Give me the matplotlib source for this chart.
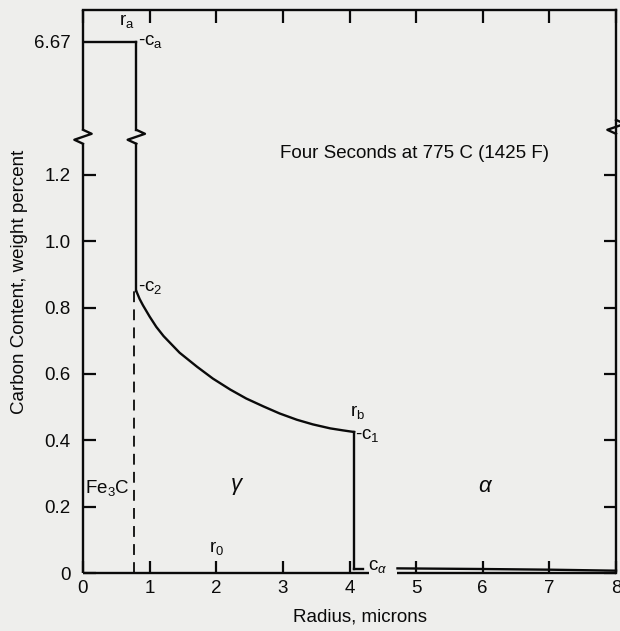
import numpy as np
import matplotlib
matplotlib.use("Agg")
import matplotlib.pyplot as plt

plt.rcParams['font.family'] = ['Liberation Sans', 'DejaVu Sans']
plt.rcParams['mathtext.fontset'] = 'custom'
plt.rcParams['mathtext.rm'] = 'Liberation Sans'
plt.rcParams['mathtext.it'] = 'Liberation Sans:italic'

# ---- data ----
r_a = 0.8            # cementite / austenite interface
c_a = 6.67           # carbon in Fe3C
c_2 = 0.85           # carbon in austenite at r_a
r_b = 4.07           # austenite / ferrite interface
c_1 = 0.425          # carbon in austenite at r_b
c_alpha = 0.012      # carbon in ferrite
radius_curve = [0.80, 0.85, 0.90, 1.00, 1.10, 1.21, 1.45, 1.71, 1.95, 2.21, 2.45, 2.71, 2.95, 3.21, 3.45, 3.71, 3.90, 4.07]
carbon_curve = [0.850, 0.826, 0.807, 0.773, 0.742, 0.714, 0.664, 0.622, 0.586, 0.553, 0.526, 0.502, 0.481, 0.462, 0.448, 0.436, 0.430, 0.425]
ferrite_x = [4.72, 6.0, 7.0, 8.0]
ferrite_c = [0.014, 0.012, 0.010, 0.007]
x_ticks = [0, 1, 2, 3, 4, 5, 6, 7, 8]
y_ticks = [0, 0.2, 0.4, 0.6, 0.8, 1.0, 1.2, 6.67]
y_ticklabels = ['0', '0.2', '0.4', '0.6', '0.8', '1.0', '1.2', '6.67']
y_break = 1.315

# broken y scale: linear to 1.4, compressed above
K = 0.0381
def fwd(y):
    y = np.asarray(y, dtype=float)
    return np.where(y <= 1.4, y, 1.4 + (y - 1.4) * K)
def inv(d):
    d = np.asarray(d, dtype=float)
    return np.where(d <= 1.4, d, 1.4 + (d - 1.4) / K)

bg = '#eeeeec'
fig = plt.figure(figsize=(6.2, 6.31), dpi=100, facecolor=bg)
ax = fig.add_axes([83/620, 58/631, 533/620, 563/631])
ax.set_facecolor(bg)
ax.set_yscale('function', functions=(fwd, inv))
ax.set_xlim(0, 8)
ax.set_ylim(0, 9.2)

lw = 1.7
col = '#0a0a0a'

for s in ['left', 'bottom']:
    ax.spines[s].set_visible(False)
for s in ['top', 'right']:
    ax.spines[s].set_linewidth(lw)
    ax.spines[s].set_color(col)

def zigzag(x, y, dx=0.13, dy=0.003):
    # top joint, right apex, left apex, bottom joint
    xs = [x, x + dx, x - dx, x]
    ys = [y + 7*dy, y + 3*dy, y - 3*dy, y - 7*dy]
    return xs, ys

# left spine with break
ax.plot([0, 0], [0, y_break - 0.021], color=col, lw=lw, clip_on=False, solid_capstyle='butt')
ax.plot([0, 0], [y_break + 0.021, 9.2], color=col, lw=lw, clip_on=False, solid_capstyle='butt')
zx, zy = zigzag(0, y_break)
ax.plot(zx, zy, color=col, lw=lw, clip_on=False)
# right spine break mark
zx, zy = zigzag(8, y_break + 0.03)
ax.plot(zx, zy, color=col, lw=lw, clip_on=False)

# bottom axis line, interrupted by c_alpha label
ax.plot([0, 4.3], [0, 0], color=col, lw=lw, clip_on=False, solid_capstyle='butt')
ax.plot([4.72, 8], [0, 0], color=col, lw=lw, clip_on=False, solid_capstyle='butt')

# cementite region
ax.plot([0, r_a], [c_a, c_a], color=col, lw=lw)
ax.plot([r_a, r_a], [c_a, y_break + 0.021], color=col, lw=lw)
zx, zy = zigzag(r_a, y_break)
ax.plot(zx, zy, color=col, lw=lw)
ax.plot([r_a, r_a], [y_break - 0.021, c_2], color=col, lw=lw)
ax.plot([r_a - 0.03, r_a - 0.03], [0, c_2], color=col, lw=1.3, dashes=(6, 4))

# austenite profile
ax.plot(radius_curve, carbon_curve, color=col, lw=lw)
ax.plot([r_b, r_b], [c_1, c_alpha], color=col, lw=lw)
ax.plot([r_b, 4.2], [c_alpha, c_alpha], color=col, lw=lw)
ax.plot(ferrite_x, ferrite_c, color=col, lw=lw, clip_on=False)

fs = 13.5
ax.set_xticks(x_ticks)
ax.set_yticks(y_ticks)
ax.set_yticklabels(y_ticklabels)
ax.minorticks_off()
ax.tick_params(direction='in', length=9, width=1.6, color=col, labelsize=fs,
               top=True, right=True, labelcolor=col)
ax.tick_params(axis='y', pad=9)
ax.tick_params(axis='x', pad=5)
ax.yaxis.get_major_ticks()[-1].tick2line.set_visible(False)
ax.yaxis.get_major_ticks()[-1].tick1line.set_visible(False)

ax.set_xlabel('Radius, microns', fontsize=fs, color=col)
ax.xaxis.set_label_coords(0.52, -0.063)
ax.set_ylabel('Carbon Content, weight percent', fontsize=fs, color=col)
ax.yaxis.set_label_coords(-0.103, 0.517)

ax.text(r_a - 0.02, 8.3, r'r$_\mathregular{a}$', fontsize=fs, ha='right', va='center', color=col)
ax.text(r_a + 0.03, c_a, r'-c$_\mathregular{a}$', fontsize=fs, ha='left', va='center', color=col)
ax.text(r_a + 0.03, c_2 + 0.01, r'-c$_\mathregular{2}$', fontsize=fs, ha='left', va='center', color=col)
ax.text(r_b - 0.07, 0.485, r'r$_\mathregular{b}$', fontsize=fs, ha='left', va='center', color=col)
ax.text(r_b + 0.02, c_1 - 0.01, r'-c$_\mathregular{1}$', fontsize=fs, ha='left', va='center', color=col)
ax.text(4.28, 0.02, r'c$_\alpha$', fontsize=fs, ha='left', va='center', color=col)
ax.text(0.03, 0.255, r'Fe$_\mathregular{3}$C', fontsize=fs, ha='left', va='center', color=col)
ax.text(2.32, 0.26, r'$\gamma$', fontsize=16, ha='center', va='center', color=col)
ax.text(6.05, 0.26, r'$\alpha$', fontsize=16, ha='center', va='center', color=col)
ax.text(2.0, 0.075, r'r$_\mathregular{0}$', fontsize=fs, ha='center', va='center', color=col)
ax.text(2.95, 1.265, 'Four Seconds at 775 C (1425 F)', fontsize=fs, ha='left', va='center', color=col)

fig.savefig('out.png', dpi=100, facecolor=bg)
